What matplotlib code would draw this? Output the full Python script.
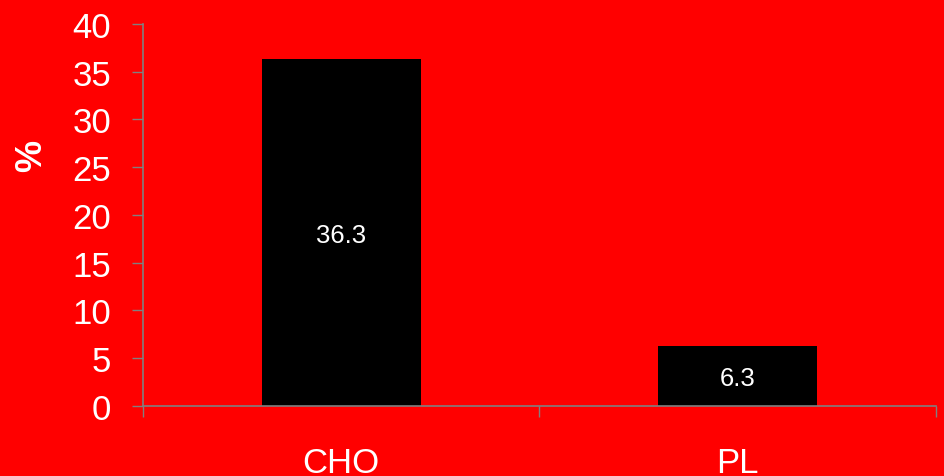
import matplotlib
matplotlib.use("Agg")
import matplotlib.pyplot as plt

plt.rcParams["font.family"] = ["Liberation Sans", "DejaVu Sans"]

# ── data ─────────────────────────────────────────────────────────────────────
categories = ["CHO", "PL"]
values     = [36.3, 6.3]
y_ticks    = [0, 5, 10, 15, 20, 25, 30, 35, 40]

RED   = "#ff0000"
GREY  = "#808080"
WHITE = "white"

fig = plt.figure(figsize=(9.44, 4.77), dpi=100, facecolor=RED)
ax = fig.add_axes([0.1515, 0.1468, 0.8400, 0.8008], facecolor=RED)

centers = [i + 0.5 for i in range(len(categories))]
bars = ax.bar(centers, values, width=0.4, color="black", zorder=2)

# value labels in the middle of each bar
for b, v in zip(bars, values):
    ax.text(b.get_x() + b.get_width() / 2, v / 2, f"{v:.1f}",
            ha="center", va="center_baseline", color=WHITE, fontsize=18.5,
            zorder=3)

ax.set_xlim(0, len(categories))
ax.set_ylim(0, 40)
ax.set_yticks(y_ticks)

# tick marks on the category boundaries, labels on the centres
ax.set_xticks(range(len(categories) + 1))
ax.set_xticklabels([])
ax.set_xticks(centers, minor=True)
ax.set_xticklabels(categories, minor=True)

ax.tick_params(axis="y", which="major", direction="out", length=8, width=1,
               color=GREY, labelsize=25, labelcolor=WHITE, pad=15)
ax.tick_params(axis="x", which="major", direction="out", length=8, width=1,
               color=GREY)
ax.tick_params(axis="x", which="minor", length=0, labelsize=25,
               labelcolor=WHITE, pad=29)

for side in ["top", "right"]:
    ax.spines[side].set_visible(False)
for side in ["left", "bottom"]:
    ax.spines[side].set_color(GREY)
    ax.spines[side].set_linewidth(1.2)

fig.text(32 / 944, 1 - 156 / 477, "%", rotation=90, ha="center", va="center",
         color=WHITE, fontsize=26, fontweight="bold")

fig.savefig("out.png", dpi=100, facecolor=RED)
